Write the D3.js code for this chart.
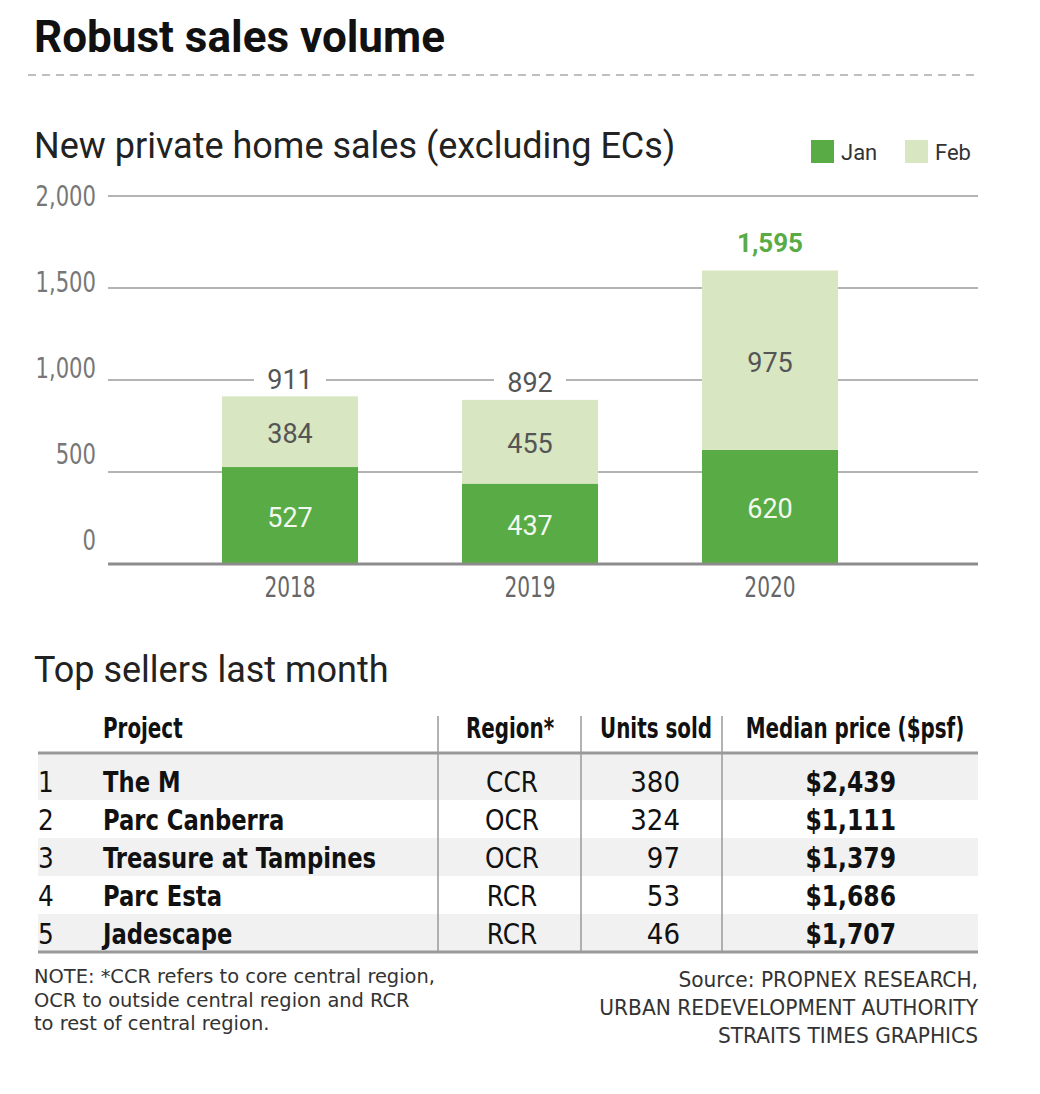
<!DOCTYPE html>
<html>
<head>
<meta charset="utf-8">
<script src="https://cdn.jsdelivr.net/npm/d3@7"></script>
<style>
  body { margin: 0; background: #fff; }
  .narrow { font-family: "Liberation Sans Narrow", "DejaVu Sans Condensed", "Arial Narrow", sans-serif; }
  .sans { font-family: Roboto, "Noto Sans", sans-serif; }
</style>
</head>
<body>
<script>
// chart data
const years = ["2018", "2019", "2020"]
const janSales = [527, 437, 620]
const febSales = [384, 455, 975]
const yTicks = [0, 500, 1000, 1500, 2000]
const seriesNames = ["Jan", "Feb"]

// table data
const tableHeaders = ["Project", "Region*", "Units sold", "Median price ($psf)"]
const ranks = [1, 2, 3, 4, 5]
const projects = ["The M", "Parc Canberra", "Treasure at Tampines", "Parc Esta", "Jadescape"]
const regions = ["CCR", "OCR", "OCR", "RCR", "RCR"]
const unitsSold = [380, 324, 97, 53, 46]
const medianPrice = [2439, 1111, 1379, 1686, 1707]

const noteLines = ["NOTE: *CCR refers to core central region,", "OCR to outside central region and RCR", "to rest of central region."]
const sourceLines = ["Source: PROPNEX RESEARCH,", "URBAN REDEVELOPMENT AUTHORITY", "STRAITS TIMES GRAPHICS"]

const W = 1040, H = 1094
const green = "#58ab45", lightGreen = "#d8e6c2"

const svg = d3.select("body").append("svg")
    .attr("width", W)
    .attr("height", H)

// condensed font is not installed, so squeeze the narrow texts horizontally
function squeeze(sel, fx, fy, sx) {
    return sel.attr("transform", (d, i) => `translate(${fx(d, i)},${fy(d, i)}) scale(${sx},1)`)
}

// titles
svg.append("text").attr("class", "sans")
    .attr("x", 34).attr("y", 52)
    .style("font-size", "44px").style("font-weight", 700).attr("fill", "#111")
    .text("Robust sales volume")

svg.append("line")
    .attr("x1", 28).attr("x2", 978).attr("y1", 75).attr("y2", 75)
    .attr("stroke", "#aaa").attr("stroke-width", 1.5).attr("stroke-dasharray", "8,6")

svg.append("text").attr("class", "sans")
    .attr("x", 34).attr("y", 158)
    .style("font-size", "36px").attr("fill", "#222")
    .text("New private home sales (excluding ECs)")

// legend
let legendX = [811, 905]
seriesNames.forEach((s, i) => {
    svg.append("rect")
        .attr("x", legendX[i]).attr("y", 140).attr("width", 23).attr("height", 23)
        .attr("fill", i === 0 ? green : lightGreen)
    svg.append("text").attr("class", "sans")
        .attr("x", legendX[i] + 30).attr("y", 160)
        .style("font-size", "22px").attr("fill", "#333")
        .text(s)
})

// scales
let x = d3.scaleBand().domain(years).range([170, 890]).paddingInner(0.4333).paddingOuter(0.2167)
let y = d3.scaleLinear().domain([0, 2000]).range([564, 196])
// tick labels in the original drift a little above their lines
let yLab = d3.scaleLinear().domain([0, 2000]).range([540, 196])

// grid
svg.append("g").selectAll("line")
    .data(yTicks.filter(d => d > 0))
    .enter().append("line")
        .attr("x1", 108).attr("x2", 978)
        .attr("y1", d => y(d)).attr("y2", d => y(d))
        .attr("stroke", "#b4b4b4").attr("stroke-width", 2)

squeeze(svg.append("g").selectAll("text")
    .data(yTicks)
    .enter().append("text").attr("class", "narrow")
        .attr("dy", "0.35em")
        .attr("text-anchor", "end")
        .style("font-size", "28px").attr("fill", "#777")
        .text(d => d3.format(",")(d)), d => 96, d => yLab(d), 0.84)

// bars
let stackData = years.map((yr, i) => ({ year: yr, Jan: janSales[i], Feb: febSales[i] }))
let stack = d3.stack().keys(seriesNames)(stackData)

let layers = svg.append("g").selectAll("g")
    .data(stack)
    .enter().append("g")
        .attr("fill", (d, i) => i === 0 ? green : lightGreen)

layers.selectAll("rect")
    .data(d => d)
    .enter().append("rect")
        .attr("x", d => x(d.data.year))
        .attr("width", x.bandwidth())
        .attr("y", d => y(d[1]))
        .attr("height", d => y(d[0]) - y(d[1]))

layers.selectAll("text")
    .data((d, i) => d.map(v => ({ v: v, key: i })))
    .enter().append("text").attr("class", "sans")
        .attr("x", d => x(d.v.data.year) + x.bandwidth() / 2)
        .attr("y", d => (y(d.v[0]) + y(d.v[1])) / 2 + 2)
        .attr("dy", "0.35em")
        .attr("text-anchor", "middle")
        .style("font-size", "27px")
        .attr("fill", d => d.key === 0 ? "#f2f8ee" : "#555")
        .text(d => d.v[1] - d.v[0])

// baseline
svg.append("line")
    .attr("x1", 108).attr("x2", 978).attr("y1", y(0)).attr("y2", y(0))
    .attr("stroke", "#8c8c8c").attr("stroke-width", 3)

// totals
let totals = years.map((yr, i) => ({ year: yr, total: janSales[i] + febSales[i] }))
let maxTotal = d3.max(totals, d => d.total)
let totG = svg.append("g").selectAll("g")
    .data(totals)
    .enter().append("g")
        .attr("transform", d => `translate(${x(d.year) + x.bandwidth() / 2},${y(d.total) - (d.total === maxTotal ? 28 : 17)})`)
totG.append("rect")
    .attr("x", -36).attr("y", -16).attr("width", 72).attr("height", 32)
    .attr("fill", "#fff")
totG.append("text").attr("class", "sans")
    .attr("dy", "0.35em")
    .attr("text-anchor", "middle")
    .style("font-size", d => d.total === maxTotal ? "26px" : "27px")
    .style("font-weight", d => d.total === maxTotal ? 700 : 400)
    .attr("fill", d => d.total === maxTotal ? green : "#555")
    .text(d => d3.format(",")(d.total))

// x labels
squeeze(svg.append("g").selectAll("text")
    .data(years)
    .enter().append("text").attr("class", "narrow")
        .attr("text-anchor", "middle")
        .style("font-size", "28px").attr("fill", "#666")
        .text(d => d), d => x(d) + x.bandwidth() / 2, d => 597, 0.8)

// table
svg.append("text").attr("class", "sans")
    .attr("x", 34).attr("y", 682)
    .style("font-size", "36px").attr("fill", "#222")
    .text("Top sellers last month")

let row = d3.scaleBand().domain(ranks).range([762, 952])
let tableLeft = 38, tableRight = 978

svg.append("g").selectAll("rect")
    .data(ranks.filter(r => r % 2 === 1))
    .enter().append("rect")
        .attr("x", tableLeft).attr("width", tableRight - tableLeft)
        .attr("y", d => d === 1 ? 754 : row(d))
        .attr("height", d => d === 1 ? row.bandwidth() + 8 : row.bandwidth())
        .attr("fill", "#f1f1f1")

let headX = [103, 510, 656, 855]
let headAnchor = ["start", "middle", "middle", "middle"]
squeeze(svg.append("g").selectAll("text")
    .data(tableHeaders)
    .enter().append("text").attr("class", "narrow")
        .attr("text-anchor", (d, i) => headAnchor[i])
        .style("font-size", "28px").style("font-weight", 700).attr("fill", "#111")
        .text(d => d), (d, i) => headX[i], d => 738, 0.79)

// separators
svg.append("g").selectAll("line")
    .data([438, 581, 722])
    .enter().append("line")
        .attr("x1", d => d).attr("x2", d => d).attr("y1", 716).attr("y2", 952)
        .attr("stroke", "#999").attr("stroke-width", 1.5)

svg.append("g").selectAll("line")
    .data([753, 952])
    .enter().append("line")
        .attr("x1", tableLeft).attr("x2", tableRight).attr("y1", d => d).attr("y2", d => d)
        .attr("stroke", "#999").attr("stroke-width", 3)

let rows = svg.append("g").selectAll("g")
    .data(ranks)
    .enter().append("g").attr("class", "narrow")
        .attr("transform", d => `translate(0,${row(d) + 30})`)
        .style("font-size", "29px").attr("fill", "#111")
squeeze(rows.append("text").attr("text-anchor", "middle").text(d => d), d => 46, d => 0, 0.95)
squeeze(rows.append("text").style("font-weight", 700).text((d, i) => projects[i]), d => 103, d => 0, 0.87)
squeeze(rows.append("text").attr("text-anchor", "middle").text(d => regions[d - 1]), d => 512, d => 0, 0.95)
squeeze(rows.append("text").attr("text-anchor", "end").text(d => unitsSold[d - 1]), d => 680, d => 0, 1)
squeeze(rows.append("text").attr("text-anchor", "end").style("font-weight", 700)
    .text(d => "$" + d3.format(",")(medianPrice[d - 1])), d => 896, d => 0, 0.9)

// footnotes
squeeze(svg.append("g").selectAll("text")
    .data(noteLines)
    .enter().append("text").attr("class", "narrow")
        .style("font-size", "20px").attr("fill", "#333")
        .text(d => d), d => 34, (d, i) => 983 + i * 23.5, 1.08)

squeeze(svg.append("g").selectAll("text")
    .data(sourceLines)
    .enter().append("text").attr("class", "narrow")
        .attr("text-anchor", "end")
        .style("font-size", "22px").attr("fill", "#333")
        .text(d => d), d => 978, (d, i) => 987 + i * 28, 1.02)
</script>
</body>
</html>
